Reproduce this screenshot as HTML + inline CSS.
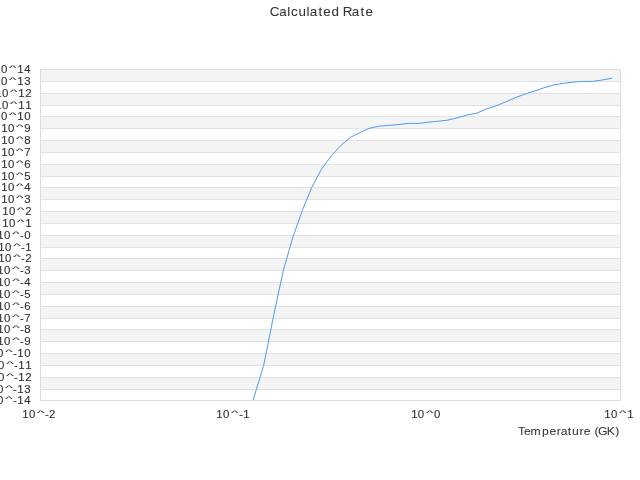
<!DOCTYPE html>
<html><head><meta charset="utf-8"><title>Calculated Rate</title>
<style>
html,body{margin:0;padding:0;background:#fff;}
body{width:640px;height:480px;overflow:hidden;font-family:"Liberation Sans",sans-serif;}
svg{display:block;will-change:transform;}
text{font-family:"Liberation Sans",sans-serif;fill:#333333;}
.lab{font-size:11.4px;stroke:#333333;stroke-width:0.12px;}
.ttl{font-size:13.4px;stroke:#333333;stroke-width:0.05px;}
.axt{font-size:11.4px;stroke:#333333;stroke-width:0.04px;}
</style></head><body>
<svg width="640" height="480" viewBox="0 0 640 480">
<rect x="0" y="0" width="640" height="480" fill="#ffffff"/>
<defs><clipPath id="pc"><rect x="41" y="70" width="579" height="330"/></clipPath></defs>

<g fill="#f4f4f4" shape-rendering="crispEdges">
<rect x="41" y="70" width="579" height="11"/>
<rect x="41" y="94" width="579" height="11"/>
<rect x="41" y="117" width="579" height="11"/>
<rect x="41" y="141" width="579" height="11"/>
<rect x="41" y="165" width="579" height="11"/>
<rect x="41" y="188" width="579" height="11"/>
<rect x="41" y="212" width="579" height="11"/>
<rect x="41" y="236" width="579" height="11"/>
<rect x="41" y="259" width="579" height="11"/>
<rect x="41" y="283" width="579" height="11"/>
<rect x="41" y="307" width="579" height="11"/>
<rect x="41" y="330" width="579" height="11"/>
<rect x="41" y="354" width="579" height="11"/>
<rect x="41" y="378" width="579" height="11"/>
</g>
<g fill="#e2e2e2" shape-rendering="crispEdges">
<rect x="41" y="81" width="579" height="1"/>
<rect x="41" y="93" width="579" height="1"/>
<rect x="41" y="105" width="579" height="1"/>
<rect x="41" y="116" width="579" height="1"/>
<rect x="41" y="128" width="579" height="1"/>
<rect x="41" y="140" width="579" height="1"/>
<rect x="41" y="152" width="579" height="1"/>
<rect x="41" y="164" width="579" height="1"/>
<rect x="41" y="176" width="579" height="1"/>
<rect x="41" y="187" width="579" height="1"/>
<rect x="41" y="199" width="579" height="1"/>
<rect x="41" y="211" width="579" height="1"/>
<rect x="41" y="223" width="579" height="1"/>
<rect x="41" y="235" width="579" height="1"/>
<rect x="41" y="247" width="579" height="1"/>
<rect x="41" y="258" width="579" height="1"/>
<rect x="41" y="270" width="579" height="1"/>
<rect x="41" y="282" width="579" height="1"/>
<rect x="41" y="294" width="579" height="1"/>
<rect x="41" y="306" width="579" height="1"/>
<rect x="41" y="318" width="579" height="1"/>
<rect x="41" y="329" width="579" height="1"/>
<rect x="41" y="341" width="579" height="1"/>
<rect x="41" y="353" width="579" height="1"/>
<rect x="41" y="365" width="579" height="1"/>
<rect x="41" y="377" width="579" height="1"/>
<rect x="41" y="389" width="579" height="1"/>
</g>
<g fill="#dcdcdc" shape-rendering="crispEdges"><rect x="40" y="69" width="581" height="1"/><rect x="40" y="400" width="581" height="1"/><rect x="40" y="69" width="1" height="332"/><rect x="620" y="69" width="1" height="332"/></g>
<polyline clip-path="url(#pc)" fill="none" stroke="#4a9bef" stroke-width="1" stroke-linejoin="round" stroke-linecap="round" points="611.60,78.30 602.00,80.00 592.40,81.45 582.70,81.45 573.00,82.15 563.40,83.30 553.70,85.00 544.00,87.80 534.40,91.10 524.70,94.20 515.00,97.80 505.40,102.00 495.70,106.00 486.00,109.10 476.40,113.30 466.70,115.10 457.00,117.80 447.40,120.20 437.70,121.30 428.00,122.20 418.40,123.40 408.70,123.40 399.00,124.50 389.40,125.30 379.70,126.10 370.00,128.10 360.40,132.30 350.70,137.20 341.00,145.20 331.40,155.80 321.70,168.80 312.00,186.80 302.40,210.30 292.70,237.80 283.30,270.50 273.90,314.30 263.70,365.30 254.00,397.10 244.40,430.00"/>
<g class="lab">
<text y="73.00" x="-5.87 1.06">10</text><text transform="translate(9.12,69.76) scale(1.393,0.584)">^</text><text y="73.00" x="17.13 24.28">14</text>
<text y="85.00" x="-5.87 1.06">10</text><text transform="translate(9.12,81.76) scale(1.393,0.584)">^</text><text y="85.00" x="17.13 24.29">13</text>
<text y="97.00" x="-4.87 2.06">10</text><text transform="translate(10.12,93.76) scale(1.393,0.584)">^</text><text y="97.00" x="18.13 25.13">12</text>
<text y="109.00" x="-4.87 2.06">10</text><text transform="translate(10.12,105.76) scale(1.393,0.584)">^</text><text y="109.00" x="18.13 25.13">11</text>
<text y="120.00" x="-5.87 1.06">10</text><text transform="translate(9.12,116.76) scale(1.393,0.584)">^</text><text y="120.00" x="17.13 24.28">10</text>
<text y="132.00" x="1.13 8.06">10</text><text transform="translate(16.12,128.76) scale(1.393,0.584)">^</text><text y="132.00" x="24.24">9</text>
<text y="144.00" x="1.13 8.06">10</text><text transform="translate(16.12,140.76) scale(1.393,0.584)">^</text><text y="144.00" x="24.28">8</text>
<text y="156.00" x="1.13 8.06">10</text><text transform="translate(16.12,152.76) scale(1.393,0.584)">^</text><text y="156.00" x="24.26">7</text>
<text y="168.00" x="1.13 8.06">10</text><text transform="translate(16.12,164.76) scale(1.393,0.584)">^</text><text y="168.00" x="24.28">6</text>
<text y="180.00" x="1.13 8.06">10</text><text transform="translate(16.12,176.76) scale(1.393,0.584)">^</text><text y="180.00" x="24.24">5</text>
<text y="191.00" x="1.13 8.06">10</text><text transform="translate(16.12,187.76) scale(1.393,0.584)">^</text><text y="191.00" x="24.28">4</text>
<text y="203.00" x="1.13 8.06">10</text><text transform="translate(16.12,199.76) scale(1.393,0.584)">^</text><text y="203.00" x="24.29">3</text>
<text y="215.00" x="2.13 9.06">10</text><text transform="translate(17.12,211.76) scale(1.393,0.584)">^</text><text y="215.00" x="25.13">2</text>
<text y="227.00" x="2.13 9.06">10</text><text transform="translate(17.12,223.76) scale(1.393,0.584)">^</text><text y="227.00" x="25.13">1</text>
<text y="239.00" x="-2.87 4.09">10</text><text transform="translate(12.15,235.76) scale(1.393,0.584)">^</text><text y="239.00" x="20.07 24.28">-0</text>
<text y="251.00" x="-1.87 5.09">10</text><text transform="translate(13.15,247.76) scale(1.393,0.584)">^</text><text y="251.00" x="21.07 25.13">-1</text>
<text y="262.00" x="-1.87 5.09">10</text><text transform="translate(13.15,258.76) scale(1.393,0.584)">^</text><text y="262.00" x="21.07 25.13">-2</text>
<text y="274.00" x="-2.87 4.09">10</text><text transform="translate(12.15,270.76) scale(1.393,0.584)">^</text><text y="274.00" x="20.07 24.29">-3</text>
<text y="286.00" x="-2.87 4.09">10</text><text transform="translate(12.15,282.76) scale(1.393,0.584)">^</text><text y="286.00" x="20.07 24.28">-4</text>
<text y="298.00" x="-2.87 4.09">10</text><text transform="translate(12.15,294.76) scale(1.393,0.584)">^</text><text y="298.00" x="20.07 24.24">-5</text>
<text y="310.00" x="-2.87 4.09">10</text><text transform="translate(12.15,306.76) scale(1.393,0.584)">^</text><text y="310.00" x="20.07 24.28">-6</text>
<text y="322.00" x="-2.87 4.09">10</text><text transform="translate(12.15,318.76) scale(1.393,0.584)">^</text><text y="322.00" x="20.07 24.26">-7</text>
<text y="333.00" x="-2.87 4.09">10</text><text transform="translate(12.15,329.76) scale(1.393,0.584)">^</text><text y="333.00" x="20.07 24.28">-8</text>
<text y="345.00" x="-2.87 4.09">10</text><text transform="translate(12.15,341.76) scale(1.393,0.584)">^</text><text y="345.00" x="20.07 24.24">-9</text>
<text y="357.00" x="-9.87 -2.91">10</text><text transform="translate(5.15,353.76) scale(1.393,0.584)">^</text><text y="357.00" x="13.07 17.13 24.28">-10</text>
<text y="369.00" x="-8.87 -1.91">10</text><text transform="translate(6.15,365.76) scale(1.393,0.584)">^</text><text y="369.00" x="14.07 18.13 25.13">-11</text>
<text y="381.00" x="-8.87 -1.91">10</text><text transform="translate(6.15,377.76) scale(1.393,0.584)">^</text><text y="381.00" x="14.07 18.13 25.13">-12</text>
<text y="393.00" x="-9.87 -2.91">10</text><text transform="translate(5.15,389.76) scale(1.393,0.584)">^</text><text y="393.00" x="13.07 17.13 24.29">-13</text>
<text y="404.00" x="-9.87 -2.91">10</text><text transform="translate(5.15,400.76) scale(1.393,0.584)">^</text><text y="404.00" x="13.07 17.13 24.28">-14</text>
<text y="418.00" x="22.13 28.93">10</text><text transform="translate(36.99,414.76) scale(1.393,0.584)">^</text><text y="418.00" x="44.90 48.96">-2</text>
<text y="418.00" x="216.13 223.03">10</text><text transform="translate(231.09,414.76) scale(1.393,0.584)">^</text><text y="418.00" x="239.00 243.13">-1</text>
<text y="418.00" x="411.13 417.83">10</text><text transform="translate(425.89,414.76) scale(1.393,0.584)">^</text><text y="418.00" x="434.04">0</text>
<text y="418.00" x="604.13 611.03">10</text><text transform="translate(619.09,414.76) scale(1.393,0.584)">^</text><text y="418.00" x="627.13">1</text>
</g>
<text class="axt" transform="scale(1.07,1)" y="435.00" x="484.11 489.64 495.90 506.66 513.57 520.39 524.06 530.61 534.55 541.56 545.67 553.36 555.68 558.98 567.15 575.06">Temperature (GK)</text>
<text class="ttl" y="16.00" x="269.78 279.14 287.36 291.04 298.51 306.41 309.76 318.41 323.36 331.52 340.40 342.67 351.76 360.54 365.49">Calculated Rate</text>
</svg></body></html>
